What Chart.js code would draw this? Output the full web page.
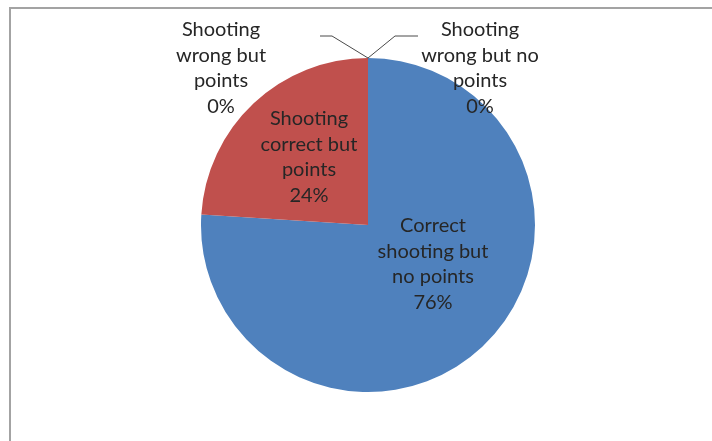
<!DOCTYPE html>
<html>
<head>
<meta charset="utf-8">
<script src="https://cdn.jsdelivr.net/npm/chart.js@4"></script>
<style>
  html, body { margin: 0; padding: 0; background: #fff; overflow: hidden; }
  canvas { display: block; }
</style>
</head>
<body>
<canvas id="chart" width="712" height="441"></canvas>
<script>
// categories, already split into lines the way the labels wrap
const categories = [
  ["Shooting", "wrong but no", "points"],
  ["Correct", "shooting but", "no points"],
  ["Shooting", "correct but", "points"],
  ["Shooting", "wrong but", "points"],
];
const values = [0, 76, 24, 0];
const sliceColors = ["#8064a2", "#4f81bd", "#c0504d", "#9bbb59"];

// where each label sits, relative to the pie centre (px)
const labelSpots = [
  { dx: 112, dy: -157, leader: [[27, -22], [50, -22]] },
  { dx: 65, dy: 39 },
  { dx: -59, dy: -68 },
  { dx: -147, dy: -157, leader: [[-36, -22], [-48, -22]] },
];

const frame = {
  id: "frame",
  beforeDraw(chart) {
    const ctx = chart.ctx;
    ctx.save();
    ctx.strokeStyle = "#a3a3a3";
    ctx.lineWidth = 2;
    ctx.beginPath();
    ctx.moveTo(10, chart.height);
    ctx.lineTo(10, 8);
    ctx.lineTo(chart.width, 8);
    ctx.stroke();
    ctx.restore();
  },
};

const pieLabels = {
  id: "pieLabels",
  afterDatasetsDraw(chart) {
    const ctx = chart.ctx;
    const meta = chart.getDatasetMeta(0);
    const data = chart.data.datasets[0].data;
    const total = data.reduce((a, b) => a + b, 0);
    const lineH = 25.5;

    ctx.save();
    ctx.font = "20px Lato";
    ctx.fillStyle = "#262626";
    ctx.textAlign = "center";
    ctx.textBaseline = "middle";

    meta.data.forEach((arc, i) => {
      const spot = labelSpots[i];
      const { x, y, outerRadius, startAngle } = arc.getProps(["x", "y", "outerRadius", "startAngle"], true);

      if (spot.leader) {
        const ex = x + outerRadius * Math.cos(startAngle);
        const ey = y + outerRadius * Math.sin(startAngle);
        ctx.strokeStyle = "#4a4a4a";
        ctx.lineWidth = 1;
        ctx.beginPath();
        ctx.moveTo(ex, ey);
        spot.leader.forEach((p) => ctx.lineTo(ex + p[0], ey + p[1]));
        ctx.stroke();
      }

      const pct = Math.round((data[i] / total) * 100) + "%";
      const lines = chart.data.labels[i].concat([pct]);
      const top = y + spot.dy - ((lines.length - 1) * lineH) / 2;
      lines.forEach((t, k) => {
        ctx.fillText(t, x + spot.dx, top + k * lineH);
      });
    });
    ctx.restore();
  },
};

new Chart(document.getElementById("chart"), {
  type: "pie",
  data: {
    labels: categories,
    datasets: [
      {
        data: values,
        backgroundColor: sliceColors,
        borderWidth: 0,
      },
    ],
  },
  options: {
    responsive: false,
    animation: false,
    layout: {
      padding: { left: 201, right: 177, top: 58, bottom: 49 },
    },
    plugins: {
      legend: { display: false },
      tooltip: { enabled: false },
    },
  },
  plugins: [frame, pieLabels],
});
</script>
</body>
</html>
